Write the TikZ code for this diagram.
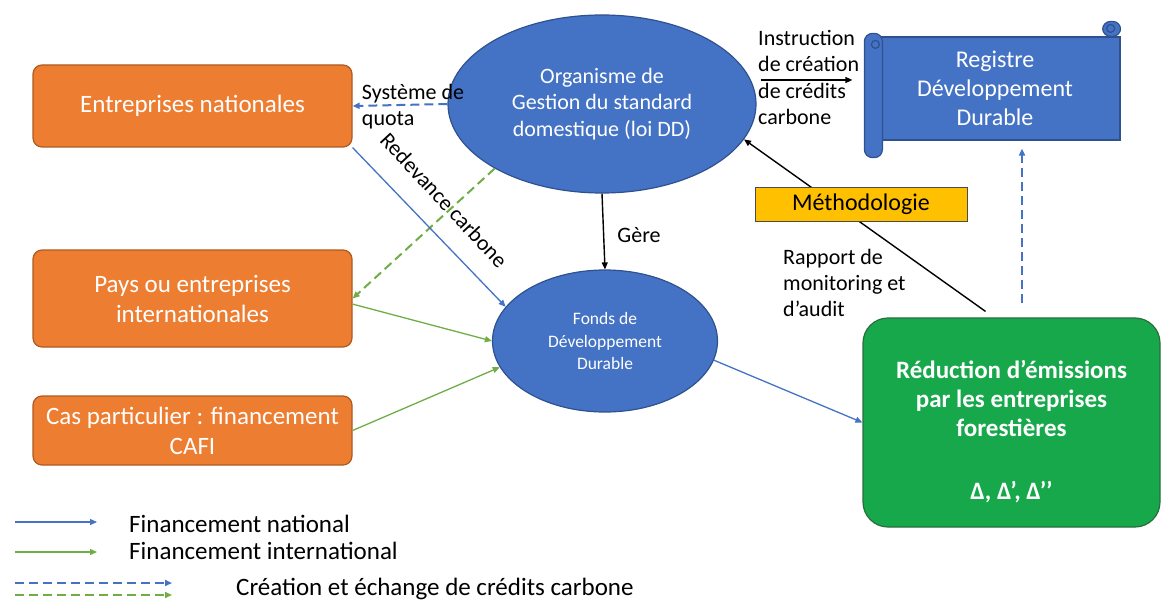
\documentclass[tikz,border=0pt]{standalone}
\usepackage{fontspec}
\setmainfont{Carlito}
\usetikzlibrary{arrows.meta,shapes.geometric}
\definecolor{actorfill}{RGB}{237,125,49}
\definecolor{actoredge}{RGB}{174,90,33}
\definecolor{ddblue}{RGB}{68,114,196}
\definecolor{ddedge}{RGB}{47,82,143}
\definecolor{ddgreen}{RGB}{24,168,76}
\definecolor{greenedge}{RGB}{40,110,60}
\definecolor{intlgreen}{RGB}{112,173,71}
\definecolor{methfill}{RGB}{255,192,0}

\begin{document}
\begin{tikzpicture}[x=1pt,y=-1pt]
        \useasboundingbox (0,0) rectangle (1164,604);
        \begin{scope}
            \tikzstyle{every node}=[text=white, align=center, inner sep=2pt]
            \tikzstyle{actor}=[fill=actorfill, draw=actoredge, line width=1.2pt, rounded corners=9pt, minimum width=319pt, font=\fontsize{25}{30}\selectfont]
            \tikzstyle{body}=[ellipse, fill=ddblue, draw=ddedge, line width=1.2pt]
            \node[actor, minimum height=82pt] (nat) at (192.5,106) {Entreprises nationales};
            \node[actor, minimum height=97pt] (pays) at (192.5,298.5) {Pays ou entreprises\\internationales};
            \node[actor, minimum height=69pt] (cas) at (192.5,430.5) {Cas particulier : financement\\CAFI};
            \node[body, minimum width=308pt, minimum height=178pt, font=\fontsize{22}{26.5}\selectfont] (org) at (602,104) {Organisme de\\Gestion du standard\\domestique (loi DD)};
            \node[body, minimum width=225pt, minimum height=142pt, font=\fontsize{17.5}{22.5}\selectfont] (fonds) at (605,341) {Fonds de\\Développement\\Durable};
            \node[fill=ddblue, draw=ddedge, line width=1.2pt, minimum width=250pt, minimum height=103pt, font=\fontsize{24}{29}\selectfont] (reg) at (995,88.5) {Registre\\Développement\\Durable};
            \node[fill=ddgreen, draw=greenedge, line width=1.2pt, rounded corners=25pt, minimum width=297pt, minimum height=209pt, font=\bfseries\fontsize{25}{29}\selectfont] (red) at (1011.5,422.5) {\rule{0pt}{36pt}Réduction d’émissions\\par les entreprises\\forestières\\[34pt]Δ, Δ’, Δ’’};
        \end{scope}
        % scroll ends of the register
        \begin{scope}[fill=ddblue, draw=ddedge, line width=1.2pt]
            \filldraw[rounded corners=8pt] ([xshift=-18pt]reg.north east) rectangle ([yshift=15pt]reg.north east);
            \filldraw[rounded corners=8pt] ([xshift=-5pt,yshift=3pt]reg.north west) rectangle ([xshift=13pt,yshift=-17pt]reg.south west);
            \filldraw ([xshift=6pt,yshift=-8pt]reg.north west) circle (4pt);
            \filldraw ([xshift=-10pt,yshift=8pt]reg.north east) circle (4pt);
        \end{scope}
        \begin{scope}
            \tikzstyle{every edge}=[draw, -{Triangle[length=7pt,width=6pt]}]
            \tikzstyle{national}=[draw=ddblue, line width=1.3pt]
            \tikzstyle{intl}=[draw=intlgreen, line width=1.3pt]
            \tikzstyle{credit}=[line width=2pt, dash pattern=on 9pt off 5pt]
            \tikzstyle{plain}=[draw=black, line width=1.4pt]
            \path
            (org.west) edge[credit, draw=ddblue] (nat.east)
            (org.211) edge[credit, draw=intlgreen] (pays.east)
            (nat.south east) edge[national] (fonds.161)
            (pays.-2) edge[intl] (fonds.west)
            (cas.east) edge[intl] (fonds.194)
            (fonds.-10) edge[national] (red.west)
            (org.south) edge[plain] (fonds.north)
            ([xshift=4pt,yshift=24pt]org.east) edge[plain] ([xshift=-17pt,yshift=8.5pt]reg.west)
            ([xshift=-26pt,yshift=6pt]red.north) edge[plain] (org.-14)
            ([xshift=10.5pt,yshift=14pt]red.north) edge[credit, draw=ddblue] ([xshift=27pt,yshift=-8pt]reg.south);
        \end{scope}
        \node[fill=methfill, draw=black!70, line width=1pt, minimum width=212pt, minimum height=33pt, inner sep=2pt, font=\fontsize{24}{28}\selectfont] (meth) at (861,204.5) {Méthodologie};
        % labels
        \begin{scope}
            \tikzstyle{every node}=[text=black, align=left, inner sep=2pt, font=\fontsize{22}{26.5}\selectfont]
            \node (quota) at (413,106.5) {Système de\\quota};
            \node[rotate=-47] (redev) at (444,200) {Redevance carbone};
            \node (gere) at (639,235) {Gère};
            \node[anchor=west] (instr) at (756,77.5) {Instruction\\de création\\de crédits\\carbone};
            \node[anchor=west, font=\fontsize{22}{26}\selectfont] (rapport) at (781,283) {Rapport de\\monitoring et\\d’audit};
        \end{scope}
        % legend
        \begin{scope}
            \tikzstyle{every node}=[text=black, anchor=west, inner sep=0pt, font=\fontsize{25}{28}\selectfont]
            \tikzstyle{every edge}=[draw, -{Triangle[length=7pt,width=6pt]}]
            \coordinate (l1a) at (15,522);
            \coordinate (l1b) at (97,522);
            \coordinate (l2a) at (15,552);
            \coordinate (l2b) at (97,552);
            \coordinate (l3a) at (15,583);
            \coordinate (l3b) at (172,583);
            \coordinate (l4a) at (15,595);
            \coordinate (l4b) at (172,595);
            \node (leg1) at (129,524) {Financement national};
            \node (leg2) at (129,551) {Financement international};
            \node (leg3) at (236,589) {Création et échange de crédits carbone};
            \path
            (l1a) edge[draw=ddblue, line width=1.3pt] (l1b)
            (l2a) edge[draw=intlgreen, line width=1.3pt] (l2b)
            (l3a) edge[draw=ddblue, line width=2pt, dash pattern=on 9pt off 5pt] (l3b)
            (l4a) edge[draw=intlgreen, line width=2pt, dash pattern=on 9pt off 5pt] (l4b);
        \end{scope}
    \end{tikzpicture}
\end{document}
